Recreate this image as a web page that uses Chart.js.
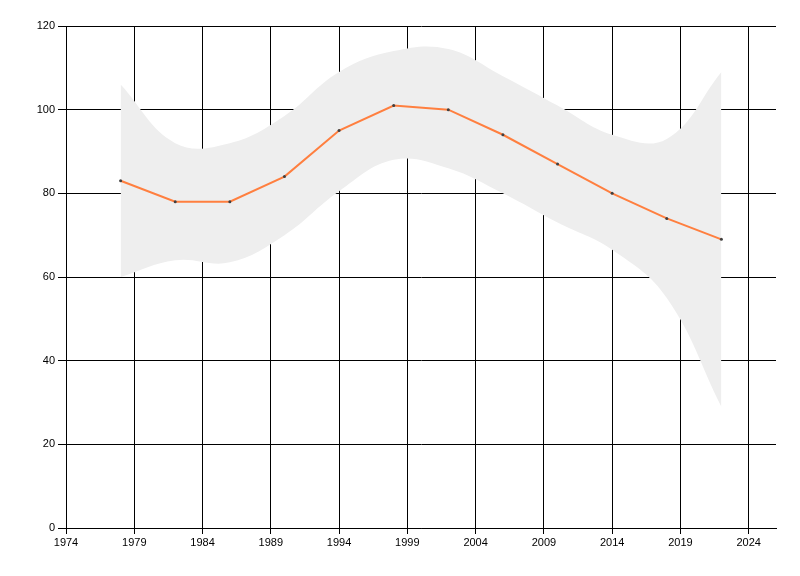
<!DOCTYPE html>
<html>
<head>
<meta charset="utf-8">
<script src="https://cdn.jsdelivr.net/npm/chart.js@4/dist/chart.umd.min.js"></script>
<style>
  html, body { margin: 0; padding: 0; background: #fff; }
  #wrap { width: 800px; height: 576px; }
</style>
</head>
<body>
<div id="wrap"><canvas id="c" width="800" height="576"></canvas></div>
<script>
const years = [1978, 1982, 1986, 1990, 1994, 1998, 2002, 2006, 2010, 2014, 2018, 2022];
const values = [83, 78, 78, 84, 95, 101, 100, 94, 87, 80, 74, 69];
const upperBand = [106, 92, 92, 98.5, 109, 114, 114.5, 108, 101, 94, 93, 109];
const lowerBand = [60, 64, 63.5, 70, 80.5, 88, 86, 80, 73, 66.5, 55, 29];
const xTicks = [1974, 1979, 1984, 1989, 1994, 1999, 2004, 2009, 2014, 2019, 2024];
const yTicks = [0, 20, 40, 60, 80, 100, 120];

const toXY = (arr) => years.map((y, i) => ({ x: y, y: arr[i] }));

new Chart(document.getElementById('c'), {
  type: 'line',
  data: {
    datasets: [
      {
        label: 'value',
        data: toXY(values),
        borderColor: '#FF7F3F',
        borderWidth: 2,
        tension: 0,
        pointRadius: 1.5,
        pointBackgroundColor: '#404040',
        pointBorderWidth: 0,
        fill: false,
        order: 0
      },
      {
        label: 'upper',
        data: toXY(upperBand),
        borderColor: 'rgba(0,0,0,0)',
        borderWidth: 0,
        backgroundColor: '#EEEEEE',
        pointRadius: 0,
        tension: 0.4,
        fill: '+1',
        order: 1
      },
      {
        label: 'lower',
        data: toXY(lowerBand),
        borderColor: 'rgba(0,0,0,0)',
        borderWidth: 0,
        backgroundColor: '#EEEEEE',
        pointRadius: 0,
        tension: 0.4,
        fill: false,
        order: 2
      }
    ]
  },
  options: {
    responsive: false,
    animation: false,
    devicePixelRatio: 1,
    layout: { padding: { left: 0, right: 24, top: 26, bottom: 0 } },
    plugins: { legend: { display: false }, tooltip: { enabled: false } },
    scales: {
      x: {
        type: 'linear',
        min: 1974,
        max: 2026,
        afterBuildTicks: (s) => { s.ticks = xTicks.map(v => ({ value: v })); },
        afterFit: (s) => { s.height = 48; },
        grid: { color: '#000', lineWidth: 1, tickLength: 6, drawTicks: true },
        border: { color: '#000', width: 1 },
        ticks: {
          color: '#000',
          padding: 2,
          maxRotation: 0,
          autoSkip: false,
          font: { family: 'Liberation Sans', size: 11 },
          callback: (v) => String(v)
        }
      },
      y: {
        min: 0,
        max: 120,
        afterBuildTicks: (s) => { s.ticks = yTicks.map(v => ({ value: v })); },
        afterFit: (s) => { s.width = 66; },
        grid: { color: '#000', lineWidth: 1, tickLength: 8 },
        border: { color: '#000', width: 1 },
        ticks: {
          color: '#000',
          padding: 3,
          font: { family: 'Liberation Sans', size: 11 },
          callback: (v) => String(v)
        }
      }
    }
  }
});
</script>
</body>
</html>
